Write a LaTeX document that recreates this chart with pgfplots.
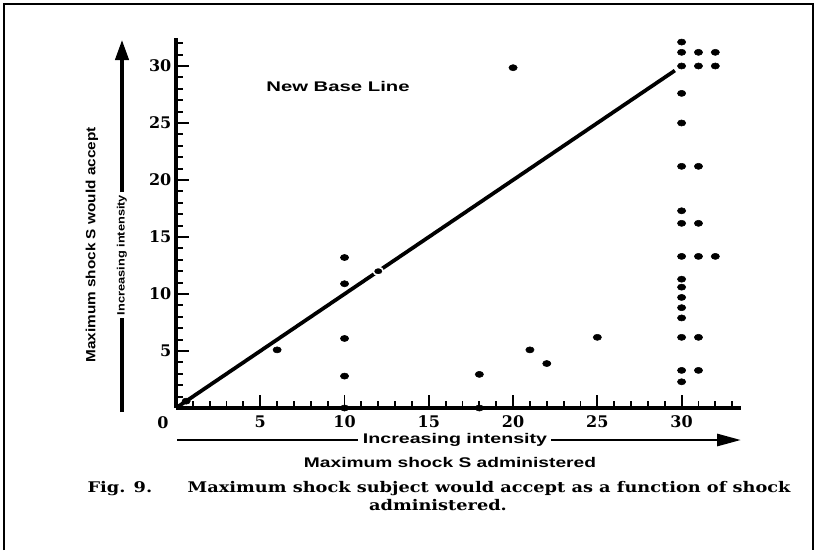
\documentclass[border=0pt]{standalone}
\usepackage{graphicx}
\usepackage{fontspec}
\setsansfont{Liberation Sans}
\newfontfamily\capfont{DejaVu Serif}
\usepackage{pgfplots}
\pgfplotsset{compat=1.18}
\usetikzlibrary{arrows.meta}

% 1 px of the reference = 0.75pt; axis origin sits at pixel (176,408)
\tikzset{px/.style={x=0.75pt,y=-0.75pt,xshift=-132pt,yshift=306pt}}

\begin{document}
\begin{tikzpicture}
\begin{scope}[px]
  \useasboundingbox (0,0) rectangle (816,550);
\end{scope}

\begin{axis}[
  x=12.64pt, y=8.55pt,
  xmin=0, xmax=33.5, ymin=0, ymax=32.5,
  axis x line=bottom, axis y line=left,
  axis line style={line width=3pt,-},
  xtick={5,10,...,30}, ytick={5,10,...,30},
  minor xtick={1,...,33}, minor ytick={1,...,32},
  tick align=inside,
  major tick length=10pt, minor tick length=5pt,
  every tick/.style={black,line width=1.4pt},
  ticklabel style={font=\capfont\bfseries\fontsize{12}{13}\selectfont},
  xticklabel style={yshift=-2pt},
  /pgf/number format/assume math mode=true,
  clip=false,
]
% new base line
\addplot[black, line width=2.8pt] coordinates {(0,0) (29.6,29.6)};

\addplot[only marks, mark=*, mark size=2.3pt, mark options={xscale=1.35}] coordinates {
  (0.6,0.6) (6,5.1) (10,13.2) (10,10.9) (10,6.1) (10,2.8) (10,0)
  (18,2.95) (18,0) (20,29.85) (21,5.1) (22,3.9) (25,6.2)
  (30,32.1) (30,31.2) (30,30.0) (30,27.6) (30,25.0) (30,21.2) (30,17.3)
  (30,16.2) (30,13.3) (30,11.3) (30,10.6) (30,9.7) (30,8.8) (30,7.9)
  (30,6.2) (30,3.3) (30,2.3)
  (31,31.2) (31,30.0) (31,21.2) (31,16.2) (31,13.3) (31,6.2) (31,3.3)
  (32,31.2) (32,30.0) (32,13.3)
};
% dot sitting on the line, with a small white gap round it
\addplot[only marks, mark=*, mark size=2.9pt,
  mark options={xscale=1.3, draw=white, fill=black, line width=1.2pt}] coordinates {(12,12)};
\end{axis}

\begin{scope}[px]
  \draw[line width=0.8pt] (4,550) -- (4,4) -- (813,4) -- (813,550);
  \node[font=\capfont\bfseries\fontsize{12}{13}\selectfont] at (163,423) {0};

  % y side
  \node[rotate=90, font=\sffamily\bfseries\fontsize{10}{12}\selectfont]
    at (92,245) {\scalebox{1.15}[1]{Maximum shock S would accept}};
  \draw[line width=2.4pt, -{Triangle[length=15pt,width=10pt]}] (122,192) -- (122,40);
  \draw[line width=2.4pt] (122,412) -- (122,318);
  \node[rotate=90, font=\sffamily\bfseries\fontsize{8}{10}\selectfont]
    at (122,255) {\scalebox{1.2}[1]{Increasing intensity}};

  % x side
  \draw[line width=2.2pt] (177,440) -- (358,440);
  \draw[line width=2.2pt, -{Triangle[length=18pt,width=9pt]}] (551,440) -- (741,440);
  \node[font=\sffamily\bfseries\fontsize{10.5}{12}\selectfont]
    at (455,440) {\scalebox{1.4}[1]{Increasing intensity}};
  \node[font=\sffamily\bfseries\fontsize{10.5}{12}\selectfont]
    at (450,462) {\scalebox{1.37}[1]{Maximum shock S administered}};

  \node[font=\sffamily\bfseries\fontsize{10.5}{12}\selectfont]
    at (338,86) {\scalebox{1.45}[1]{New Base Line}};

  % caption
  \node[font=\capfont\bfseries\fontsize{11}{12}\selectfont] at (439,489)
    {\scalebox{1.21}[1]{Fig. 9.\hspace{2em}Maximum shock subject would accept as a function of shock}};
  \node[font=\capfont\bfseries\fontsize{11}{12}\selectfont] at (438,505)
    {\scalebox{1.21}[1]{administered.}};
\end{scope}
\end{tikzpicture}
\end{document}
